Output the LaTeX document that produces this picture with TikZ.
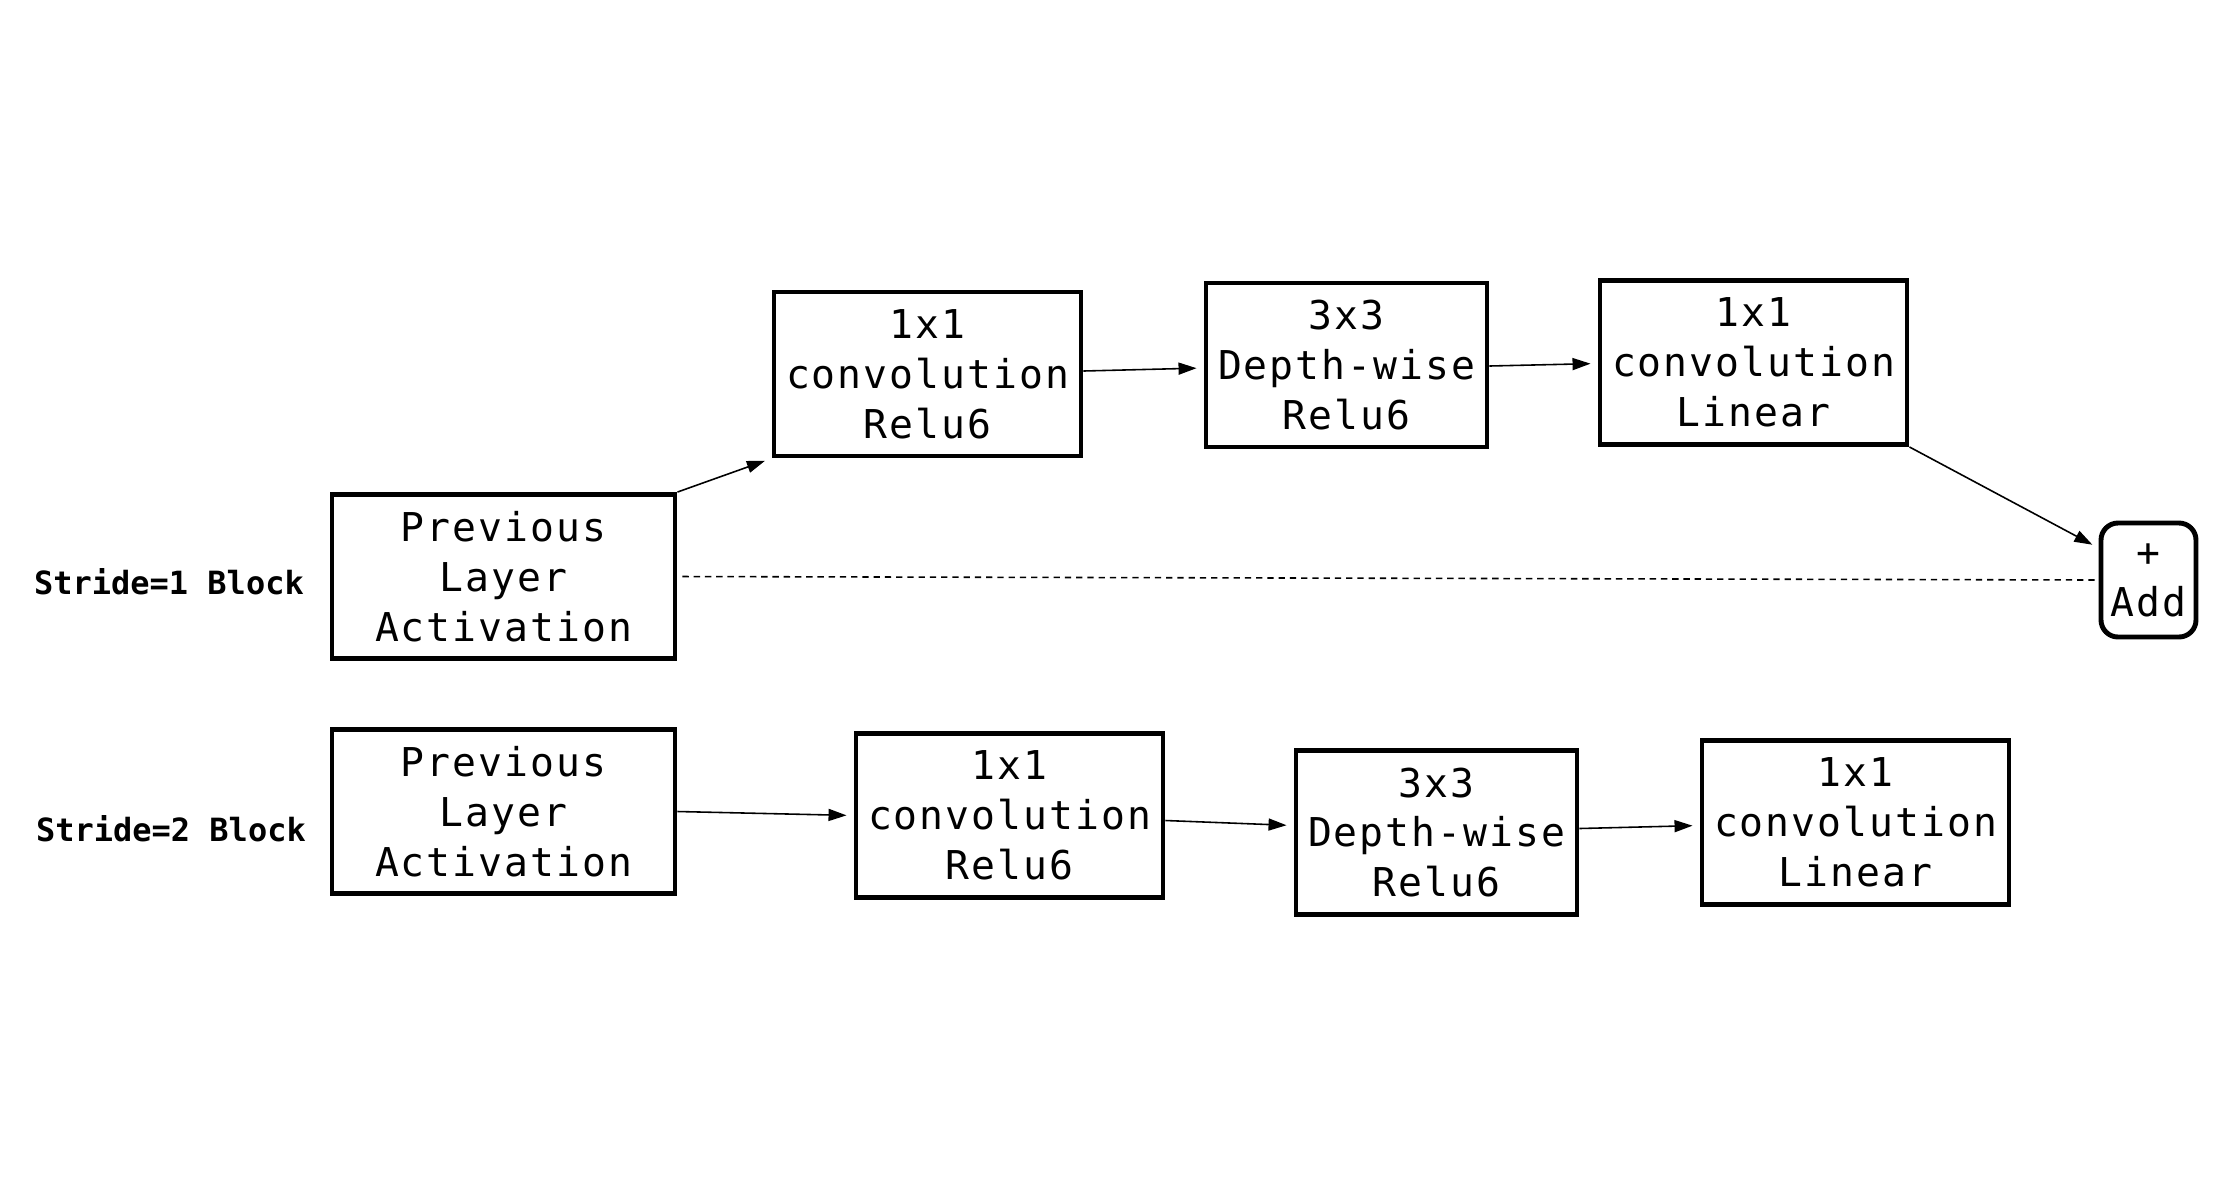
\documentclass[tikz,border=0pt]{standalone}
\usepackage{fontspec}
\usetikzlibrary{arrows.meta}
\newfontfamily\boxfont[LetterSpace=5]{DejaVu Sans Mono}
\newfontfamily\labfont{DejaVu Sans Mono}
\tikzset{
  blk/.style={draw=black, line width=1.4pt, inner sep=0pt, align=center,
    font=\boxfont\fontsize{11.3pt}{14.2pt}\selectfont},
  wideblk/.style={blk, minimum width=3.07cm, minimum height=1.64cm},
  prevblk/.style={blk, minimum width=3.43cm, minimum height=1.64cm},
  dwblk/.style={blk, minimum width=2.81cm, minimum height=1.64cm},
  addblk/.style={blk, rounded corners=0.17cm, minimum width=0.95cm, minimum height=1.14cm},
  lab/.style={font=\labfont\bfseries\fontsize{9.1pt}{11pt}\selectfont, inner sep=0pt},
  arr/.style={-{Triangle[length=0.18cm,width=0.12cm]}, line width=0.45pt, shorten >=0.07cm},
  skip/.style={dashed, dash pattern=on 1.8pt off 1.4pt, line width=0.45pt, shorten <=0.05cm}
}
\begin{document}
\begin{tikzpicture}
\useasboundingbox (0,0) rectangle (22.22,-12);
% row 1
\node[lab] (l1) at (1.69,-5.82) {Stride=1 Block};
\node[prevblk] (prevA) at (5.035,-5.765) {Previous\\Layer\\Activation};
\node[wideblk] (convA) at (9.275,-3.74) {1x1\\convolution\\Relu6};
\node[dwblk] (dwA) at (13.465,-3.65) {3x3\\Depth-wise\\Relu6};
\node[wideblk] (linA) at (17.535,-3.625) {1x1\\convolution\\Linear};
\node[addblk] (add) at (21.485,-5.80) {+\\Add};
% row 2
\node[lab] (l2) at (1.71,-8.29) {Stride=2 Block};
\node[prevblk] (prevB) at (5.035,-8.115) {Previous\\Layer\\Activation};
\node[wideblk] (convB) at (10.095,-8.155) {1x1\\convolution\\Relu6};
\node[dwblk] (dwB) at (14.365,-8.325) {3x3\\Depth-wise\\Relu6};
\node[wideblk] (linB) at (18.555,-8.225) {1x1\\convolution\\Linear};
% connectors row 1
\draw[arr] (prevA.north east) -- (convA.south west);
\draw[arr] ([yshift=0.03cm]convA.east) -- ([yshift=-0.03cm]dwA.west);
\draw[arr] ([yshift=-0.01cm]dwA.east) -- ([yshift=-0.01cm]linA.west);
\draw[arr] (linA.south east) -- ([yshift=0.32cm]add.west);
\draw[skip] (prevA.east) -- (add.west);
% connectors row 2
\draw[arr] (prevB.east) -- (convB.west);
\draw[arr] ([yshift=-0.05cm]convB.east) -- ([yshift=0.07cm]dwB.west);
\draw[arr] ([yshift=0.04cm]dwB.east) -- ([yshift=-0.03cm]linB.west);
\end{tikzpicture}
\end{document}
